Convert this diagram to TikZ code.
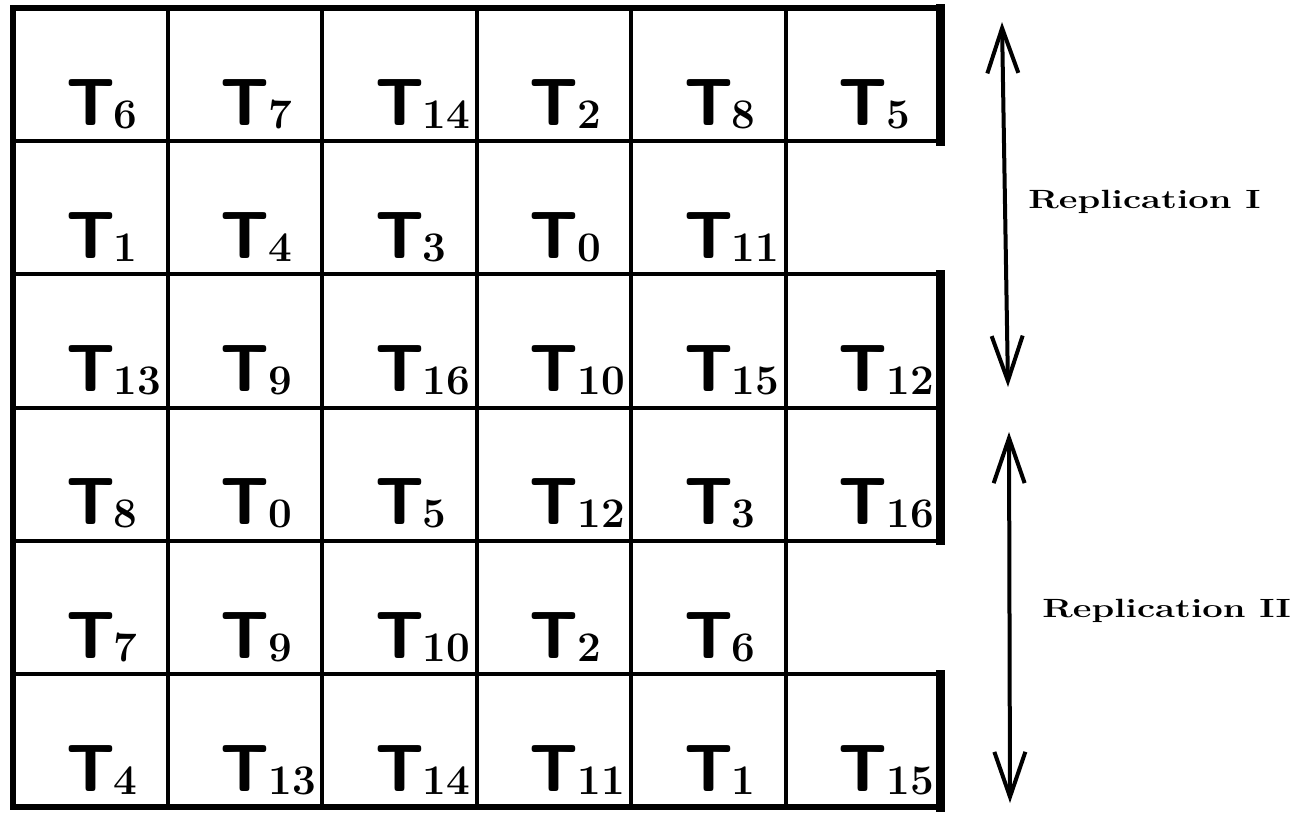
\documentclass[tikz,border=0pt]{standalone}
\usepackage{xcolor}
\usepackage{graphicx}
\usepackage{tikz}
\usetikzlibrary{positioning,arrows.meta,calc}

\newcommand{\tlab}[1]{{\sffamily\bfseries\fontsize{38}{38}\selectfont T\kern-0.02em}\lower0.06cm\hbox{\bfseries\fontsize{24}{24}\selectfont #1}}

\begin{document}
\begin{tikzpicture}[x=0.02cm, y=-0.02cm,
    inner/.style={line width=0.08cm},
    outer/.style={line width=0.12cm, line join=miter},
    redge/.style={line width=0.18cm, line cap=rect},
    tlabel/.style={anchor=base west, inner sep=0pt},
    replarrow/.style={line width=0.08cm, {Straight Barb[length=0.9cm,width=0.62cm]}-{Straight Barb[length=0.9cm,width=0.62cm]}},
    repltext/.style={anchor=base west, inner sep=0pt, font=\bfseries\fontsize{15}{15}\selectfont}]
    \useasboundingbox (0,0) rectangle (1302,812);

    % grid lines
    \foreach \i in {1,...,5}
        \draw[inner] ({13+154.5*\i},8) -- ({13+154.5*\i},807);
    \foreach \j in {1,...,5}
        \draw[inner] (13,{8+133.2*\j}) -- (940,{8+133.2*\j});
    \draw[outer] (940,8) -- (13,8) -- (13,807) -- (940,807);
    \draw[redge] (940,8) -- (940,141.2);
    \draw[redge] (940,274.4) -- (940,540.8);
    \draw[redge] (940,674) -- (940,807);

    % task labels, row by row
    \foreach \labs [count=\r] in {{6,7,14,2,8,5},{1,4,3,0,11},{13,9,16,10,15,12},{8,0,5,12,3,16},{7,9,10,2,6},{4,13,14,11,1,15}} {
        \foreach \n [count=\c] in \labs {
            \node[tlabel] (t\r-\c) at ({13+154.5*(\c-1)+53}, {8+133.2*\r-16}) {\tlab{\n}};
        }
    }

    % replications
    \coordinate (rep1top) at (1002,22);
    \coordinate (rep1bot) at (1008,387);
    \coordinate (rep2top) at (1009,432);
    \coordinate (rep2bot) at (1010,803);
    \draw[replarrow] (rep1top) -- (rep1bot);
    \draw[replarrow] (rep2top) -- (rep2bot);
    \node[repltext] (rep1) at (1028,208) {\scalebox{1.38}[1]{Replication I}};
    \node[repltext] (rep2) at (1042,617) {\scalebox{1.38}[1]{Replication II}};
\end{tikzpicture}
\end{document}
